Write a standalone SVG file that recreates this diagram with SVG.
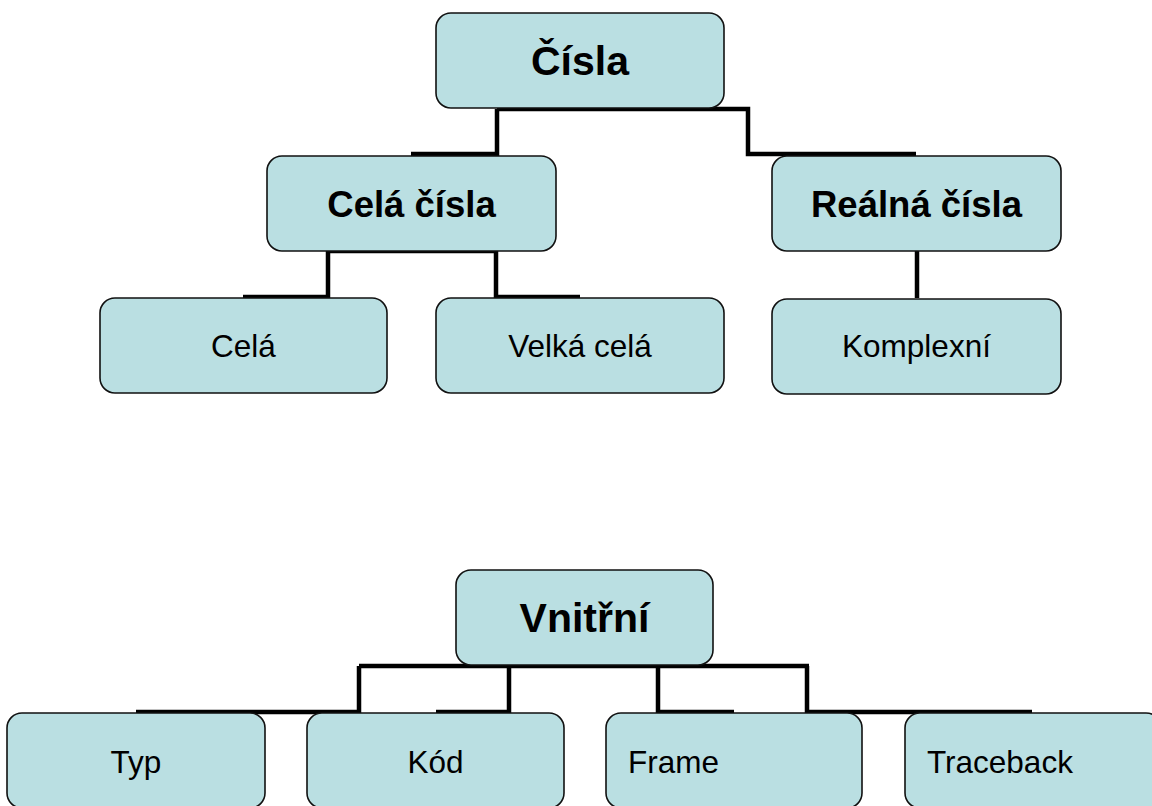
<svg xmlns="http://www.w3.org/2000/svg" width="1152" height="806" viewBox="0 0 1152 806">
<style>
.box{fill:#badfe2;stroke:#111;stroke-width:1.6}
.con{fill:none;stroke:#000;stroke-width:4.5;stroke-linejoin:miter}
.tb{font-family:"Liberation Sans",Arial,sans-serif;font-weight:bold;fill:#000;text-anchor:middle}
.tr{font-family:"Liberation Sans",Arial,sans-serif;font-size:31.5px;fill:#000;text-anchor:middle}
.tl{font-family:"Liberation Sans",Arial,sans-serif;font-size:31.5px;fill:#000}
</style>
<rect width="1152" height="806" fill="#fff"/>
<g id="connectors">
<path class="con" d="M497,109 V154 H411"/>
<path class="con" d="M497,109 H748 V154 H916"/>
<path class="con" d="M328,251 V297 H243"/>
<path class="con" d="M328,251 H496 V297 H580"/>
<path class="con" d="M917,251 V298"/>
<path class="con" d="M359,666 H809"/>
<path class="con" d="M359,666 V712 H136"/>
<path class="con" d="M509,666 V712 H436"/>
<path class="con" d="M658,666 V712 H734"/>
<path class="con" d="M807,666 V712 H1032"/>
</g>
<g id="n-cisla"><rect class="box" x="436" y="13" width="288" height="95" rx="15"/><text class="tb" x="580" y="75" font-size="41">Čísla</text></g>
<g id="n-cela-cisla"><rect class="box" x="267" y="156" width="289" height="95" rx="15"/><text class="tb" x="411.5" y="217" font-size="36.5">Celá čísla</text></g>
<g id="n-realna-cisla"><rect class="box" x="772" y="156" width="289" height="95" rx="15"/><text class="tb" x="916.5" y="217" font-size="36.5">Reálná čísla</text></g>
<g id="n-cela"><rect class="box" x="100" y="298" width="287" height="95" rx="15"/><text class="tr" x="243.5" y="357">Celá</text></g>
<g id="n-velka-cela"><rect class="box" x="436" y="298" width="288" height="95" rx="15"/><text class="tr" x="580" y="357">Velká celá</text></g>
<g id="n-komplexni"><rect class="box" x="772" y="299" width="289" height="95" rx="15"/><text class="tr" x="916.5" y="357">Komplexní</text></g>
<g id="n-vnitrni"><rect class="box" x="456" y="570" width="257" height="95" rx="15"/><text class="tb" x="584.5" y="632" font-size="41">Vnitřní</text></g>
<g id="n-typ"><rect class="box" x="7" y="713" width="258" height="95" rx="15"/><text class="tr" x="136" y="773">Typ</text></g>
<g id="n-kod"><rect class="box" x="307" y="713" width="257" height="95" rx="15"/><text class="tr" x="435.5" y="773">Kód</text></g>
<g id="n-frame"><rect class="box" x="606" y="713" width="256" height="95" rx="15"/><text class="tl" x="628" y="773">Frame</text></g>
<g id="n-traceback"><rect class="box" x="905" y="713" width="256" height="95" rx="15"/><text class="tl" x="927" y="773">Traceback</text></g>
</svg>
